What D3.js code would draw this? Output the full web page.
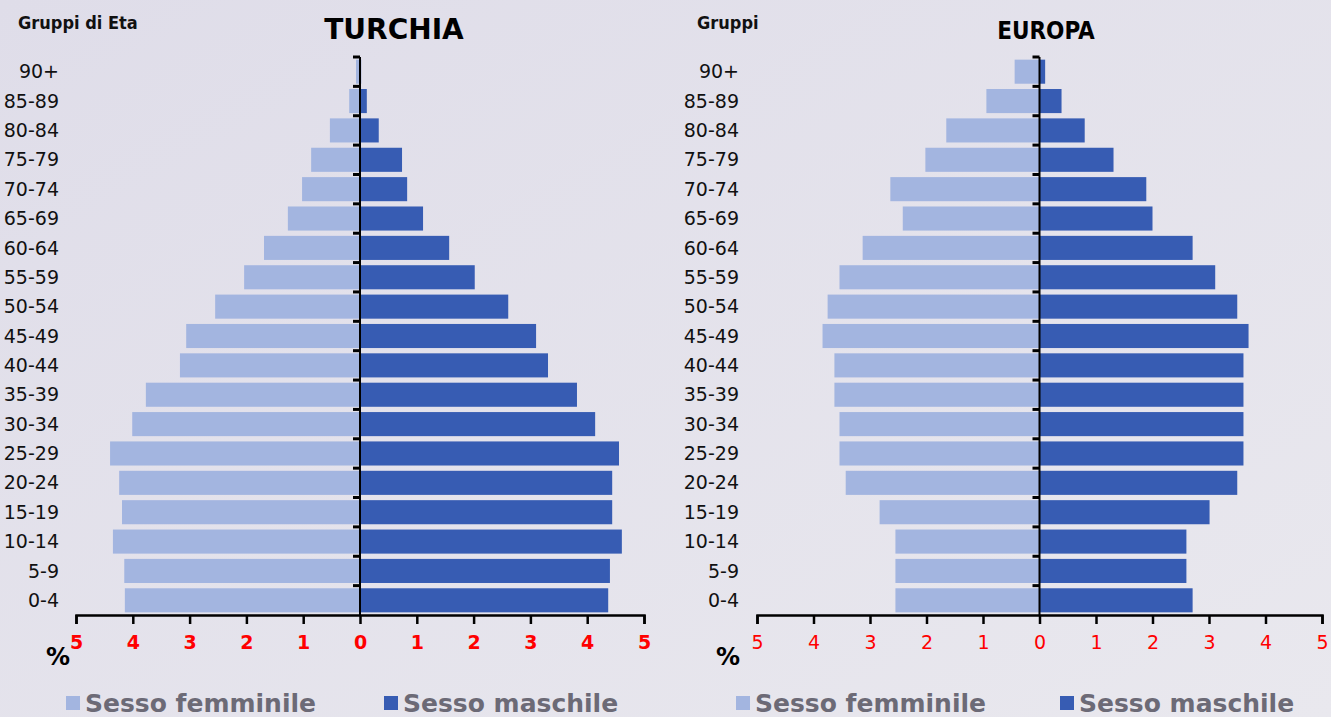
<!DOCTYPE html>
<html>
<head>
<meta charset="utf-8">
<script src="https://cdn.jsdelivr.net/npm/d3@7"></script>
<style>
  body { margin: 0; background: #e2e0ea; }
  svg { display: block; }
</style>
</head>
<body>
<svg id="chart" width="1331" height="717"></svg>
<script>
// age groups, top to bottom
var ageGroups = ["90+", "85-89", "80-84", "75-79", "70-74", "65-69", "60-64", "55-59",
  "50-54", "45-49", "40-44", "35-39", "30-34", "25-29", "20-24", "15-19", "10-14", "5-9", "0-4"];

var turchiaFemmine = [0.07, 0.19, 0.53, 0.86, 1.02, 1.27, 1.69, 2.04, 2.55, 3.06, 3.17, 3.77,
  4.01, 4.40, 4.24, 4.19, 4.35, 4.15, 4.14];
var turchiaMaschi = [0.02, 0.12, 0.33, 0.74, 0.83, 1.11, 1.57, 2.02, 2.61, 3.10, 3.31, 3.82,
  4.14, 4.56, 4.44, 4.44, 4.61, 4.40, 4.37];

var europaFemmine = [0.44, 0.94, 1.65, 2.02, 2.64, 2.42, 3.13, 3.54, 3.75, 3.84, 3.63, 3.63,
  3.54, 3.54, 3.43, 2.83, 2.55, 2.55, 2.55];
var europaMaschi = [0.10, 0.39, 0.80, 1.31, 1.89, 2.00, 2.71, 3.11, 3.50, 3.70, 3.61, 3.61,
  3.61, 3.61, 3.50, 3.01, 2.60, 2.60, 2.71];

var tickValues = [-5, -4, -3, -2, -1, 0, 1, 2, 3, 4, 5];
var legendLabels = ["Sesso femminile", "Sesso maschile"];

var coloreF = "#a3b5e0",
    coloreM = "#375cb3";

var svg = d3.select("#chart");

var defs = svg.append("defs");
var grad = defs.append("linearGradient").attr("id", "bg")
  .attr("x1", "0").attr("y1", "0").attr("x2", "1").attr("y2", "1");
grad.append("stop").attr("offset", "0").attr("stop-color", "#dfdde9");
grad.append("stop").attr("offset", "1").attr("stop-color", "#e9e8ee");
svg.append("rect").attr("width", 1331).attr("height", 717).attr("fill", "url(#bg)");

function pyramid(opts) {
  var x = d3.scaleLinear().domain([-5, 5]).range([opts.x0, opts.x1]);
  var y = d3.scaleBand().domain(ageGroups).range([57, 615]).paddingInner(0.18).paddingOuter(0.09);
  var g = svg.append("g");

  var rows = ageGroups.map(function(a, i) {
    return {age: a, f: opts.femmine[i], m: opts.maschi[i]};
  });

  // female bars (left)
  g.selectAll(".barF")
    .data(rows).enter().append("rect")
      .attr("x", function(d) { return x(-d.f); })
      .attr("y", function(d) { return y(d.age); })
      .attr("width", function(d) { return x(0) - x(-d.f); })
      .attr("height", y.bandwidth())
      .attr("fill", coloreF);

  // male bars (right)
  g.selectAll(".barM")
    .data(rows).enter().append("rect")
      .attr("x", x(0))
      .attr("y", function(d) { return y(d.age); })
      .attr("width", function(d) { return x(d.m) - x(0); })
      .attr("height", y.bandwidth())
      .attr("fill", coloreM);

  // vertical axis at 0
  g.append("line")
    .attr("x1", x(0)).attr("x2", x(0))
    .attr("y1", 57).attr("y2", 615)
    .attr("stroke", "#000").attr("stroke-width", 2);

  var half = y.step() * y.paddingInner() / 2;
  var bounds = ageGroups.map(function(a) { return y(a) - half; });
  g.selectAll(".ytick")
    .data(bounds).enter().append("line")
      .attr("x1", x(0) - 7).attr("x2", x(0))
      .attr("y1", function(d) { return d; })
      .attr("y2", function(d) { return d; })
      .attr("stroke", "#000").attr("stroke-width", 3);

  // age labels
  g.selectAll(".agelabel")
    .data(ageGroups).enter().append("text")
      .attr("x", opts.labelX)
      .attr("y", function(d) { return y(d) + y.bandwidth() / 2; })
      .attr("dy", "0.35em")
      .attr("text-anchor", "end")
      .style("font-family", "DejaVu Sans")
      .style("font-size", "19px")
      .style("fill", "#111")
      .text(function(d) { return d; });

  // bottom axis
  var xAxis = d3.axisBottom(x)
    .tickValues(tickValues)
    .tickSize(9)
    .tickPadding(12)
    .tickFormat(function(d) { return Math.abs(d); });
  var ax = g.append("g")
    .attr("transform", "translate(0,615)")
    .call(xAxis);
  ax.select(".domain").attr("stroke", "#000").attr("stroke-width", 2.5);
  ax.selectAll(".tick line").attr("stroke", "#000").attr("stroke-width", 2.5);
  ax.selectAll(".tick text")
    .style("font-family", "DejaVu Sans")
    .style("font-size", "19px")
    .style("font-weight", opts.tickBold ? "bold" : "normal")
    .style("fill", "#ff0000");

  g.append("text")
    .attr("x", opts.pctX).attr("y", 665)
    .style("font-family", "DejaVu Sans")
    .style("font-size", "24px")
    .style("font-weight", "bold")
    .style("fill", "#000")
    .text("%");

  // titles
  g.append("text")
    .attr("x", opts.titleX).attr("y", 39)
    .attr("text-anchor", "middle")
    .style("font-family", opts.titleFont)
    .style("font-size", opts.titleSize)
    .style("font-weight", "bold")
    .style("fill", "#000")
    .text(opts.title);

  g.append("text")
    .attr("x", opts.gruppiX).attr("y", 29)
    .style("font-family", "DejaVu Sans Condensed")
    .style("font-size", "18px")
    .style("font-weight", "bold")
    .style("fill", "#111")
    .text(opts.gruppi);

  // legend
  var lg = g.selectAll(".legend")
    .data(legendLabels).enter().append("g")
      .attr("transform", function(d, i) { return "translate(" + opts.legendX[i] + ",696)"; });
  lg.append("rect")
    .attr("width", 14).attr("height", 14)
    .attr("fill", function(d, i) { return i === 0 ? coloreF : coloreM; });
  lg.append("text")
    .attr("x", 19).attr("y", 16)
    .style("font-family", "DejaVu Sans")
    .style("font-size", "25px")
    .style("font-weight", "bold")
    .style("fill", "#6c6a76")
    .text(function(d) { return d; });
}

pyramid({
  x0: 76, x1: 644, labelX: 59, femmine: turchiaFemmine, maschi: turchiaMaschi,
  tickBold: true, pctX: 46, title: "TURCHIA", titleX: 394, titleFont: "DejaVu Sans",
  titleSize: "28px", gruppi: "Gruppi di Eta", gruppiX: 18, legendX: [66, 384]
});

pyramid({
  x0: 757, x1: 1322, labelX: 739, femmine: europaFemmine, maschi: europaMaschi,
  tickBold: false, pctX: 716, title: "EUROPA", titleX: 1046, titleFont: "DejaVu Sans Condensed",
  titleSize: "24px", gruppi: "Gruppi", gruppiX: 697, legendX: [736, 1060]
});
</script>
</body>
</html>
